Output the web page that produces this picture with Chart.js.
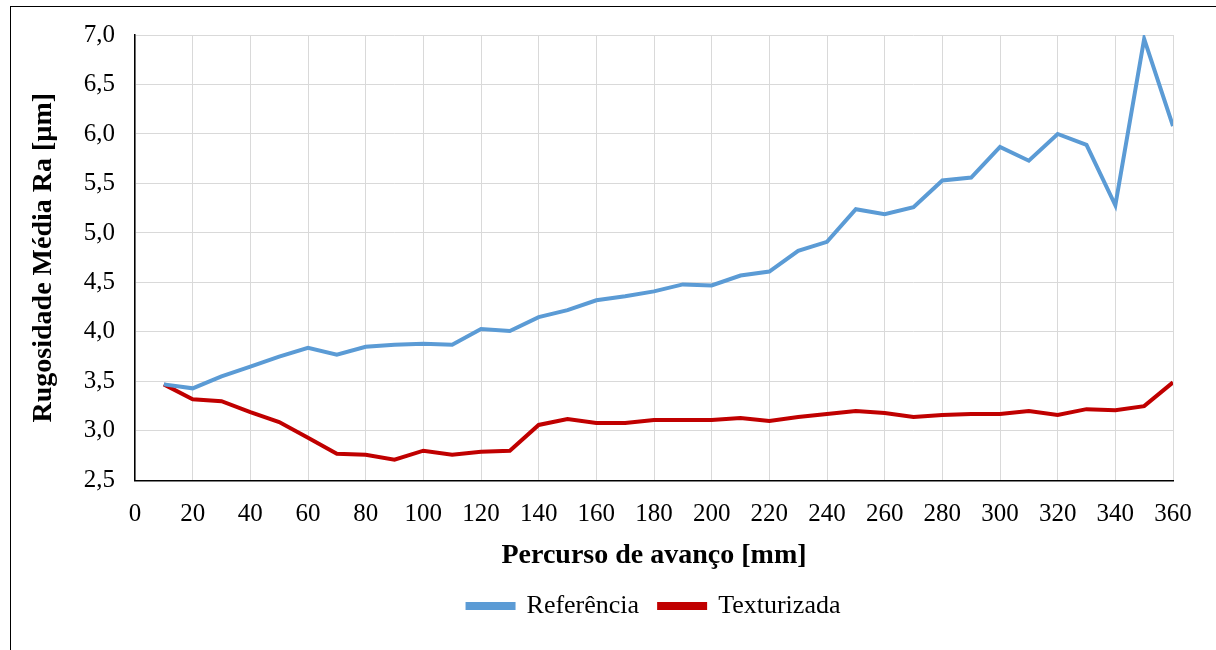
<!DOCTYPE html>
<html>
<head>
<meta charset="utf-8">
<script src="https://cdn.jsdelivr.net/npm/chart.js@4"></script>
<style>
  html, body { margin: 0; padding: 0; background: #fff; }
  #wrap { position: relative; width: 1216px; height: 650px; }
  #frame { position: absolute; left: 10px; top: 6px; right: 0; bottom: 0;
           border-top: 1px solid #000; border-left: 1px solid #000; pointer-events: none; }
</style>
</head>
<body>
<div id="wrap">
  <canvas id="myChart" width="1216" height="650"></canvas>
  <div id="frame"></div>
</div>
<script>
const percurso = [10, 20, 30, 40, 50, 60, 70, 80, 90, 100, 110, 120, 130, 140, 150, 160, 170, 180,
                  190, 200, 210, 220, 230, 240, 250, 260, 270, 280, 290, 300, 310, 320, 330, 340, 350, 360];
const referencia = [3.47, 3.43, 3.55, 3.65, 3.75, 3.84, 3.77, 3.85, 3.87, 3.88, 3.87, 4.03, 4.01, 4.15, 4.22, 4.32,
                    4.36, 4.41, 4.48, 4.47, 4.57, 4.61, 4.82, 4.91, 5.24, 5.19, 5.26, 5.53, 5.56, 5.87, 5.73, 6.00,
                    5.89, 5.28, 6.96, 6.08];
const texturizada = [3.47, 3.32, 3.30, 3.19, 3.09, 2.93, 2.77, 2.76, 2.71, 2.80, 2.76, 2.79, 2.80, 3.06, 3.12, 3.08,
                     3.08, 3.11, 3.11, 3.11, 3.13, 3.10, 3.14, 3.17, 3.20, 3.18, 3.14, 3.16, 3.17, 3.17, 3.20, 3.16,
                     3.22, 3.21, 3.25, 3.49];
const seriesNames = ['Referência', 'Texturizada'];
const xTitle = 'Percurso de avanço [mm]';
const yTitle = 'Rugosidade Média Ra [µm]';

const serif = "'Liberation Serif', 'Times New Roman', serif";

document.addEventListener('DOMContentLoaded', function () {
    const ctx = document.getElementById('myChart').getContext('2d');
    const toPts = (ys) => percurso.map((x, i) => ({ x: x, y: ys[i] }));
    new Chart(ctx, {
        type: 'line',
        data: {
            datasets: [{
                label: seriesNames[0],
                data: toPts(referencia),
                borderColor: '#5B9BD5',
                backgroundColor: '#5B9BD5',
                borderWidth: 4,
                pointRadius: 0,
                tension: 0,
                fill: false
            }, {
                label: seriesNames[1],
                data: toPts(texturizada),
                borderColor: '#C00000',
                backgroundColor: '#C00000',
                borderWidth: 4,
                pointRadius: 0,
                tension: 0,
                fill: false
            }]
        },
        options: {
            responsive: false,
            animation: false,
            layout: { padding: { left: 10, top: 34, right: 43, bottom: 21 } },
            scales: {
                x: {
                    type: 'linear',
                    min: 0,
                    max: 360,
                    ticks: { stepSize: 20, color: '#000', font: { family: serif, size: 25 }, padding: 19, maxRotation: 0 },
                    grid: { color: '#d9d9d9', lineWidth: 1, drawTicks: false },
                    border: { color: '#000', width: 1.5 },
                    title: { display: true, text: xTitle, color: '#000', font: { family: serif, size: 28, weight: 'bold' }, padding: { top: -9, bottom: 0 } }
                },
                y: {
                    min: 2.5,
                    max: 7.0,
                    ticks: {
                        stepSize: 0.5, color: '#000', font: { family: serif, size: 25 }, padding: 20,
                        callback: (v) => v.toFixed(1).replace('.', ',')
                    },
                    grid: { color: '#d9d9d9', lineWidth: 1, drawTicks: false },
                    border: { color: '#000', width: 1.5 },
                    title: { display: true, text: yTitle, color: '#000', font: { family: serif, size: 28, weight: 'bold' }, padding: { top: 17, bottom: 0 } },
                    afterFit: (scale) => { scale.width = 125; }
                }
            },
            plugins: {
                legend: {
                    display: true,
                    position: 'bottom',
                    fullSize: false,
                    labels: { color: '#000', font: { family: serif, size: 26 }, boxWidth: 46, boxHeight: 4, padding: 20 }
                },
                tooltip: { enabled: false }
            }
        }
    });
});
</script>
</body>
</html>
